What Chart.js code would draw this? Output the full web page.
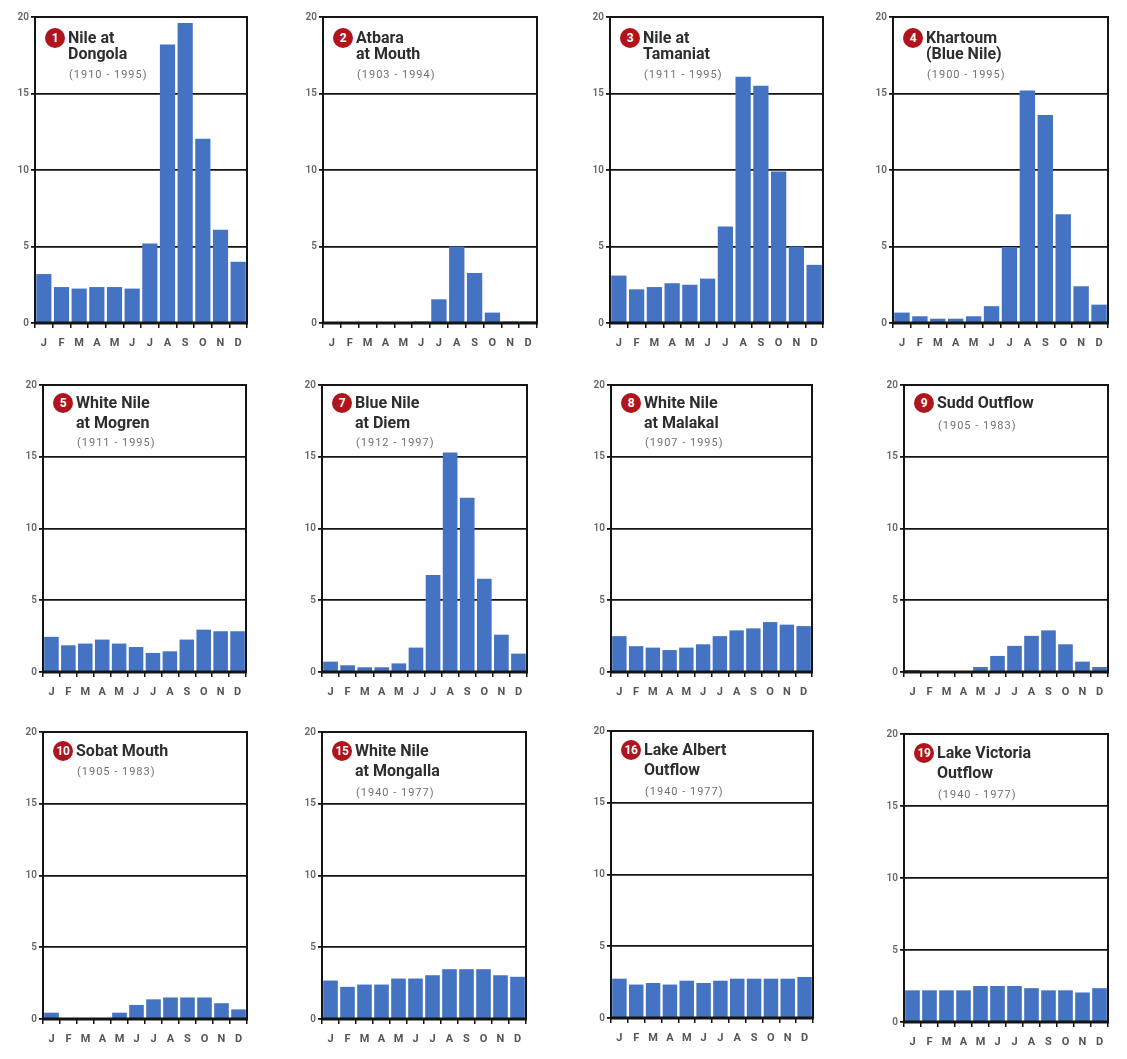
<!DOCTYPE html>
<html>
<head>
<meta charset="utf-8">
<script src="https://cdn.jsdelivr.net/npm/chart.js@4.4.1/dist/chart.umd.min.js"></script>
<style>
  body { margin: 0; background: #fff; width: 1127px; height: 1059px; position: relative; overflow: hidden; font-family: Roboto, "Open Sans", sans-serif; }
  .panel { position: absolute; }
  .panel canvas { display: block; }
  .badge { position: absolute; width: 20px; height: 20px; border-radius: 50%; background: #b0141c; color: #fff; font-weight: 700; font-size: 12px; line-height: 20px; text-align: center; letter-spacing: -0.5px; }
  .name { position: absolute; font-weight: 700; font-size: 16px; line-height: 16px; color: #2e2e2e; white-space: nowrap; }
  .years { position: absolute; font-size: 11px; line-height: 11px; color: #707070; letter-spacing: 1px; white-space: nowrap; }
</style>
</head>
<body>
<script>
const months = ['J', 'F', 'M', 'A', 'M', 'J', 'J', 'A', 'S', 'O', 'N', 'D'];
const yTicks = [0, 5, 10, 15, 20];

const stationNums = ['1', '2', '3', '4', '5', '7', '8', '9', '10', '15', '16', '19'];
const stationNames = [
  ['Nile at', 'Dongola'], ['Atbara', 'at Mouth'], ['Nile at', 'Tamaniat'], ['Khartoum', '(Blue Nile)'],
  ['White Nile', 'at Mogren'], ['Blue Nile', 'at Diem'], ['White Nile', 'at Malakal'], ['Sudd Outflow'],
  ['Sobat Mouth'], ['White Nile', 'at Mongalla'], ['Lake Albert', 'Outflow'], ['Lake Victoria', 'Outflow']
];
const stationYears = [
  '(1910 - 1995)', '(1903 - 1994)', '(1911 - 1995)', '(1900 - 1995)',
  '(1911 - 1995)', '(1912 - 1997)', '(1907 - 1995)', '(1905 - 1983)',
  '(1905 - 1983)', '(1940 - 1977)', '(1940 - 1977)', '(1940 - 1977)'
];

// monthly flow values
const dongola  = [3.2, 2.35, 2.25, 2.35, 2.35, 2.25, 5.2, 18.2, 19.6, 12.05, 6.1, 4.0];
const atbara   = [0, 0, 0, 0, 0, 0.1, 1.55, 5.0, 3.27, 0.68, 0.1, 0.1];
const tamaniat = [3.1, 2.2, 2.35, 2.6, 2.5, 2.9, 6.3, 16.1, 15.5, 9.9, 5.0, 3.8];
const khartoum = [0.68, 0.44, 0.28, 0.28, 0.44, 1.1, 4.97, 15.2, 13.6, 7.1, 2.4, 1.2];
const mogren   = [2.45, 1.86, 1.98, 2.26, 1.98, 1.74, 1.33, 1.44, 2.26, 2.95, 2.84, 2.84];
const diem     = [0.72, 0.47, 0.33, 0.33, 0.6, 1.7, 6.76, 15.3, 12.15, 6.5, 2.6, 1.28];
const malakal  = [2.5, 1.8, 1.7, 1.53, 1.7, 1.93, 2.5, 2.9, 3.04, 3.48, 3.3, 3.2];
const sudd     = [0.14, 0, 0, 0, 0.35, 1.12, 1.82, 2.52, 2.9, 1.93, 0.72, 0.35];
const sobat    = [0.44, 0.05, 0.05, 0.05, 0.44, 0.98, 1.37, 1.5, 1.5, 1.5, 1.1, 0.67];
const mongalla = [2.68, 2.24, 2.4, 2.4, 2.82, 2.82, 3.05, 3.47, 3.47, 3.47, 3.05, 2.94];
const albert   = [2.74, 2.33, 2.44, 2.33, 2.6, 2.44, 2.6, 2.74, 2.74, 2.74, 2.74, 2.86];
const victoria = [2.2, 2.2, 2.2, 2.2, 2.5, 2.5, 2.5, 2.35, 2.2, 2.2, 2.05, 2.35];

const series = [dongola, atbara, tamaniat, khartoum, mogren, diem, malakal, sudd, sobat, mongalla, albert, victoria];

// plot boxes on the page: [left, top, right, bottom]
const plotBoxes = [
  [35, 17, 247, 323], [323, 17, 537, 323], [610, 17, 823, 323], [893, 17, 1108, 323],
  [43, 385, 246, 672], [322, 385, 527, 672], [611, 385, 812, 672], [904, 385, 1108, 672],
  [43, 732, 247, 1019], [322, 732, 526, 1019], [611, 731, 813, 1018], [904, 734, 1108, 1022]
];
// title cap-top offsets per row: [line1, line2, years(two lines), years(one line)]
const titleRows = [[15, 31, 53, 35], [12, 32, 53, 36], [13, 33, 56, 35]];

const AXIS_L = 32, AXIS_B = 36, PAD_T = 10, PAD_R = 5;

const framePlugin = {
  id: 'frame',
  afterDatasetsDraw(chart) {
    const a = chart.chartArea, ctx = chart.ctx;
    ctx.save();
    ctx.strokeStyle = '#141414';
    ctx.lineWidth = 2;
    ctx.strokeRect(a.left, a.top, a.right - a.left, a.bottom - a.top);
    ctx.lineWidth = 3;
    ctx.beginPath();
    ctx.moveTo(a.left - 1, a.bottom);
    ctx.lineTo(a.right + 1, a.bottom);
    ctx.stroke();
    ctx.restore();
  }
};

series.forEach((values, i) => {
  const [l, t, r, b] = plotBoxes[i];
  const w = r - l, h = b - t;
  const panel = document.createElement('div');
  panel.className = 'panel';
  panel.style.left = (l - AXIS_L) + 'px';
  panel.style.top = (t - PAD_T) + 'px';
  panel.style.width = (w + AXIS_L + PAD_R) + 'px';
  panel.style.height = (h + PAD_T + AXIS_B) + 'px';
  const canvas = document.createElement('canvas');
  panel.appendChild(canvas);
  document.body.appendChild(panel);

  new Chart(canvas, {
    type: 'bar',
    data: {
      labels: months,
      datasets: [{
        data: values,
        backgroundColor: '#4573c3',
        borderWidth: 0,
        barPercentage: 0.86,
        categoryPercentage: 1.0
      }]
    },
    options: {
      responsive: true,
      maintainAspectRatio: false,
      animation: false,
      layout: { padding: { top: PAD_T, right: PAD_R, left: 0, bottom: 0 } },
      plugins: { legend: { display: false }, tooltip: { enabled: false } },
      scales: {
        x: {
          grid: { offset: true, drawOnChartArea: false, drawTicks: true, tickLength: 5, color: '#141414', lineWidth: 1.5 },
          border: { display: true, color: '#141414', width: 2 },
          ticks: { color: '#555', padding: 9, font: { family: 'Roboto', size: 11, weight: 'bold' }, maxRotation: 0, autoSkip: false },
          afterFit(scale) { scale.height = AXIS_B; }
        },
        y: {
          min: yTicks[0],
          max: yTicks[yTicks.length - 1],
          afterBuildTicks(scale) { scale.ticks = yTicks.map(v => ({ value: v })); },
          grid: { color: '#141414', lineWidth: 1.8, drawTicks: true, tickLength: 4 },
          border: { display: true, color: '#141414', width: 2 },
          ticks: { color: '#666', padding: 2, font: { family: 'Roboto', size: 10, weight: '600' } },
          afterFit(scale) { scale.width = AXIS_L; }
        }
      }
    },
    plugins: [framePlugin]
  });

  // title block
  const row = titleRows[Math.floor(i / 4)];
  const names = stationNames[i];
  const badge = document.createElement('div');
  badge.className = 'badge';
  badge.textContent = stationNums[i];
  badge.style.left = (l + 20 - 10) + 'px';
  badge.style.top = (t + row[0] + 5.5 - 10) + 'px';
  document.body.appendChild(badge);
  names.forEach((line, k) => {
    const d = document.createElement('div');
    d.className = 'name';
    d.textContent = line;
    d.style.left = (l + 33) + 'px';
    d.style.top = (t + row[k] - 2) + 'px';
    document.body.appendChild(d);
  });
  const y = document.createElement('div');
  y.className = 'years';
  y.textContent = stationYears[i];
  y.style.left = (l + 34) + 'px';
  y.style.top = (t + (names.length === 2 ? row[2] : row[3]) - 1.5) + 'px';
  document.body.appendChild(y);
});
</script>
</body>
</html>
